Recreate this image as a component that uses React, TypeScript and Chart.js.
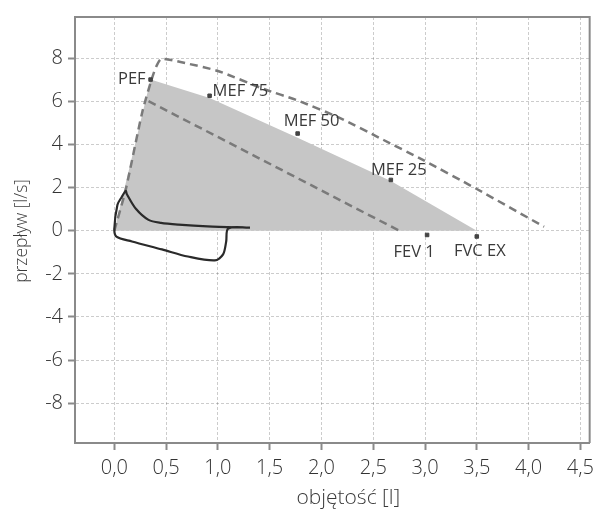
import React, { useEffect, useRef } from "react";
import { Chart, registerables } from "chart.js";

Chart.register(...registerables);

// ---- data ----
const xTicks = [0, 0.5, 1, 1.5, 2, 2.5, 3, 3.5, 4, 4.5];
const yTicks = [-8, -6, -4, -2, 0, 2, 4, 6, 8];
const xTitle = "objętość [l]";
const yTitle = "przepływ [l/s]";

// shaded (patient expiratory envelope)
const shadeX = [0, 0.05, 0.35, 0.92, 1.77, 2.67, 3.5];
const shadeY = [0, 1.0, 7.0, 6.15, 4.3, 2.3, 0];

// upper dashed reference curve
const upperX = [0, 0.11, 0.27, 0.38, 0.45, 0.65, 1.0, 1.45, 1.76, 2.17, 2.6, 2.97, 3.5, 4.15];
const upperY = [0, 1.9, 5.5, 7.3, 7.95, 7.8, 7.4, 6.55, 6.05, 5.24, 4.2, 3.3, 1.93, 0.18];

// lower dashed reference curve
const lowerX = [0.33, 2.75];
const lowerY = [6.0, 0];

// solid measured loop
const loopX = [1.31, 0.9, 0.62, 0.45, 0.33, 0.21, 0.12, 0.11, 0.07, 0.03, 0.0, 0.02, 0.17, 0.46, 0.71, 0.97, 1.05, 1.08, 1.1, 1.31];
const loopY = [0.14, 0.2, 0.28, 0.36, 0.5, 1.0, 1.7, 1.84, 1.55, 1.2, 0.1, -0.28, -0.5, -0.87, -1.2, -1.38, -1.1, -0.5, 0.1, 0.14];

// markers
const markerNames = ["PEF", "MEF 75", "MEF 50", "MEF 25", "FEV 1", "FVC EX"];
const markerX = [0.35, 0.92, 1.77, 2.67, 3.02, 3.5];
const markerY = [7.0, 6.25, 4.5, 2.35, -0.2, -0.27];

const FONT = "'Open Sans', 'DejaVu Sans', sans-serif";

const pts = (xs: number[], ys: number[]) => xs.map((x, i) => ({ x, y: ys[i] }));

// label placement (style only: pixel offsets & alignment)
const labelStyle: { dx: number; dy: number; align: CanvasTextAlign }[] = [
  { dx: -5, dy: 0, align: "right" },
  { dx: 3, dy: -4, align: "left" },
  { dx: 14, dy: -12, align: "center" },
  { dx: 8, dy: -10, align: "center" },
  { dx: -13, dy: 17, align: "center" },
  { dx: 3, dy: 15, align: "center" },
];

const labelsPlugin = {
  id: "mefLabels",
  afterDatasetsDraw(chart: any) {
    const { ctx, scales } = chart;
    ctx.save();
    ctx.font = `16.5px ${FONT}`;
    ctx.fillStyle = "#3a3a3a";
    ctx.textBaseline = "middle";
    markerNames.forEach((n, i) => {
      const px = scales.x.getPixelForValue(markerX[i]);
      const py = scales.y.getPixelForValue(markerY[i]);
      const s = labelStyle[i];
      ctx.textAlign = s.align;
      ctx.fillText(n, px + s.dx, py + s.dy);
    });
    ctx.restore();
  },
};

const framePlugin = {
  id: "frame",
  afterDraw(chart: any) {
    const { ctx, chartArea } = chart;
    ctx.save();
    ctx.strokeStyle = "#8a8a8a";
    ctx.lineWidth = 2;
    ctx.beginPath();
    ctx.moveTo(chartArea.left, chartArea.top);
    ctx.lineTo(chartArea.right, chartArea.top);
    ctx.lineTo(chartArea.right, chartArea.bottom);
    ctx.stroke();
    // axis titles
    ctx.fillStyle = "#3a3a3a";
    ctx.textAlign = "center";
    ctx.textBaseline = "middle";
    ctx.font = `300 21px ${FONT}`;
    ctx.fillText(xTitle, (chartArea.left + chartArea.right) / 2 + 16, chart.height - 13);
    ctx.translate(22, (chartArea.top + chartArea.bottom) / 2 + 1);
    ctx.rotate(-Math.PI / 2);
    ctx.font = `300 17.5px ${FONT}`;
    ctx.fillText(yTitle, 0, 0);
    ctx.restore();
  },
};

export default function App() {
  const ref = useRef<HTMLCanvasElement>(null);
  useEffect(() => {
    if (!ref.current) return;
    const chart = new Chart(ref.current, {
      type: "scatter",
      data: {
        datasets: [
          {
            data: pts(loopX, loopY),
            showLine: true,
            borderColor: "#2a2a2a",
            borderWidth: 2.2,
            pointRadius: 0,
            tension: 0.3,
            order: 1,
          } as any,
          {
            data: pts(markerX, markerY),
            showLine: false,
            pointStyle: "rect",
            pointRadius: 2.5,
            backgroundColor: "#444",
            borderColor: "#444",
            order: 0,
          },
          {
            data: pts(upperX, upperY),
            showLine: true,
            borderColor: "#7a7a7a",
            borderWidth: 2.5,
            borderDash: [8, 5],
            pointRadius: 0,
            tension: 0.2,
            order: 2,
          },
          {
            data: pts(lowerX, lowerY),
            showLine: true,
            borderColor: "#7a7a7a",
            borderWidth: 2.5,
            borderDash: [8, 5],
            pointRadius: 0,
            order: 3,
          },
          {
            data: pts(shadeX, shadeY),
            showLine: true,
            borderWidth: 0,
            borderColor: "rgba(0,0,0,0)",
            backgroundColor: "#c6c6c6",
            fill: "origin",
            pointRadius: 0,
            order: 10,
          },
        ],
      },
      options: {
        animation: false,
        responsive: false,
        events: [],
        layout: { padding: { top: 14, right: 3, left: 0, bottom: 0 } },
        plugins: { legend: { display: false }, tooltip: { enabled: false } },
        scales: {
          x: {
            type: "linear",
            min: -0.38,
            max: 4.59,
            afterBuildTicks: (s: any) => {
              s.ticks = xTicks.map((v) => ({ value: v }));
            },
            afterFit: (s: any) => {
              s.height = 68;
            },
            ticks: {
              callback: (v: any) => Number(v).toFixed(1).replace(".", ","),
              font: { family: FONT, size: 20, weight: 300 as any },
              color: "#333",
              padding: 6,
              maxRotation: 0,
              autoSkip: false,
            },
            grid: {
              color: "rgba(0,0,0,0.2)",
              lineWidth: 1,
              tickColor: "#8a8a8a",
              tickLength: 7,
              tickWidth: 2,
            },
            border: { color: "#8a8a8a", width: 2, dash: [3, 2] },
            title: { display: false },
          },
          y: {
            type: "linear",
            min: -9.84,
            max: 9.9,
            afterBuildTicks: (s: any) => {
              s.ticks = yTicks.map((v) => ({ value: v }));
            },
            afterFit: (s: any) => {
              s.width = 75;
            },
            ticks: {
              callback: (v: any) => String(v),
              font: { family: FONT, size: 20, weight: 300 as any },
              color: "#333",
              padding: 5,
              autoSkip: false,
            },
            grid: {
              color: "rgba(0,0,0,0.2)",
              lineWidth: 1,
              tickColor: "#8a8a8a",
              tickLength: 7,
              tickWidth: 2,
            },
            border: { color: "#8a8a8a", width: 2, dash: [3, 2] },
            title: { display: false },
          },
        },
      },
      plugins: [labelsPlugin, framePlugin],
    });
    return () => chart.destroy();
  }, []);
  return (
    <div style={{ position: "absolute", left: 0, top: 0, width: 600, height: 511, background: "#fff" }}>
      <canvas ref={ref} width={600} height={511} style={{ width: 600, height: 511, display: "block" }} />
    </div>
  );
}
